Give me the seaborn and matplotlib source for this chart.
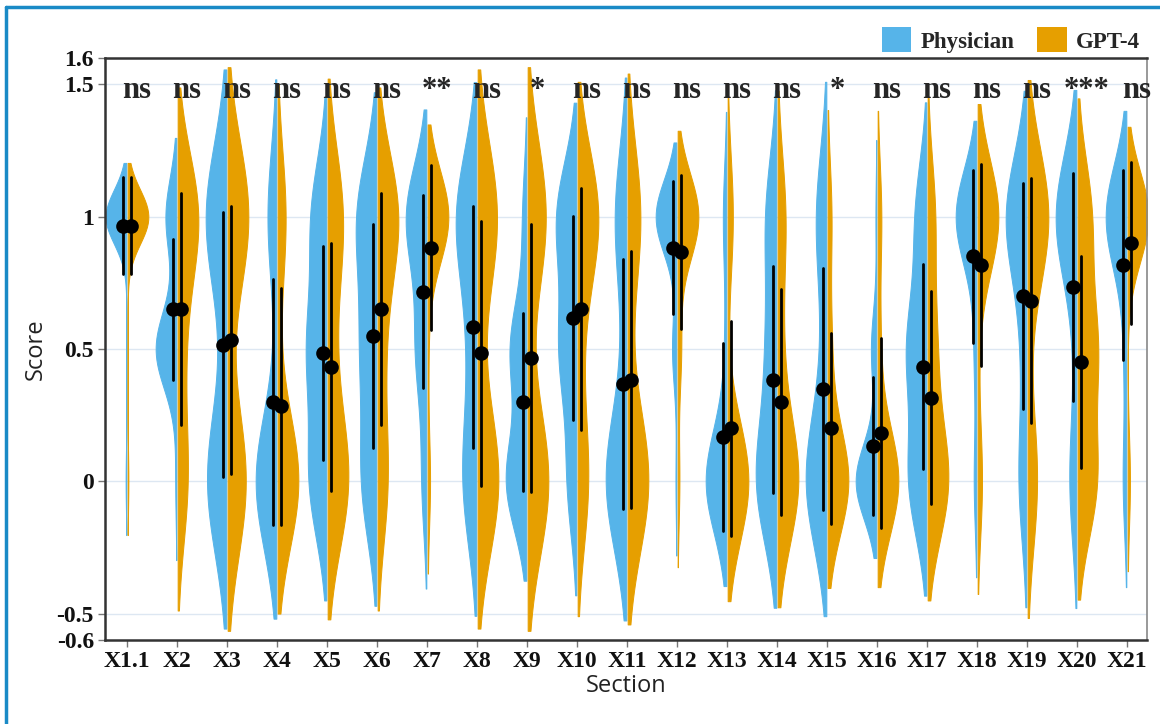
import numpy as np
import pandas as pd
import matplotlib
matplotlib.use("Agg")
import matplotlib.pyplot as plt
from matplotlib.lines import Line2D
import seaborn as sns

# ---------------- data (counts of scores 0 / 0.5 / 1 per section) ----------------
sections = ["X1.1", "X2", "X3", "X4", "X5", "X6", "X7", "X8", "X9", "X10", "X11",
            "X12", "X13", "X14", "X15", "X16", "X17", "X18", "X19", "X20", "X21"]
score_levels = [0.0, 0.5, 1.0]

phys_n0  = [1, 1, 14, 21, 10, 9, 4, 10, 15, 6, 18, 1, 24, 15, 18, 23, 11, 3, 7, 7, 4]
phys_n05 = [0, 19, 1, 0, 11, 9, 9, 5, 12, 11, 2, 5, 2, 7, 3, 6, 12, 3, 4, 2, 3]
phys_n1  = [29, 10, 15, 9, 9, 12, 17, 15, 3, 13, 10, 24, 4, 8, 9, 1, 7, 24, 19, 21, 23]

gpt_n0   = [1, 8, 14, 21, 15, 8, 3, 15, 16, 9, 18, 2, 24, 19, 22, 23, 17, 5, 9, 11, 3]
gpt_n05  = [0, 5, 0, 1, 4, 5, 1, 1, 0, 3, 1, 4, 0, 4, 4, 3, 7, 1, 1, 11, 0]
gpt_n1   = [29, 17, 16, 8, 11, 17, 26, 14, 14, 18, 11, 24, 6, 7, 4, 4, 6, 24, 20, 8, 27]

significance = ["ns", "ns", "ns", "ns", "ns", "ns", "**", "ns", "*", "ns", "ns",
                "ns", "ns", "ns", "*", "ns", "ns", "ns", "ns", "***", "ns"]

groups = ["Physician", "GPT-4"]
colors = {"Physician": "#56B4E9", "GPT-4": "#E69F00"}

y_ticks = [-0.6, -0.5, 0, 0.5, 1, 1.5, 1.6]
y_ticklabels = ["-0.6", "-0.5", "0", "0.5", "1", "1.5", "1.6"]

# ---------------- build long table ----------------
rows = []
for grp, c0, c05, c1 in [("Physician", phys_n0, phys_n05, phys_n1),
                         ("GPT-4", gpt_n0, gpt_n05, gpt_n1)]:
    for s, a, b, c in zip(sections, c0, c05, c1):
        for lvl, cnt in zip(score_levels, (a, b, c)):
            rows += [(s, grp, lvl)] * cnt
df = pd.DataFrame(rows, columns=["Section", "Group", "Score"])

# ---------------- plot ----------------
sns.set_theme(style="white")
plt.rcParams["font.family"] = ["DejaVu Sans"]

fig = plt.figure(figsize=(11.6, 7.24), dpi=100)
ax = fig.add_axes([105 / 1160, 1 - 640 / 724, (1147 - 105) / 1160, (640 - 58) / 724])

ax.set_axisbelow(True)
grid_c = "#dde7f2"
ax.grid(True, axis="both", color=grid_c, linewidth=1.0)

sns.violinplot(data=df, x="Section", y="Score", hue="Group", order=sections,
               hue_order=groups, palette=colors, split=True, inner=None,
               density_norm="width", common_norm=False, cut=2, bw_adjust=1.1,
               width=0.88, gap=0.06, linewidth=0, saturation=1, ax=ax, legend=False)

for coll in ax.collections:
    fc = coll.get_facecolor()
    coll.set_edgecolor(fc)
    coll.set_linewidth(0.7)

sns.pointplot(data=df, x="Section", y="Score", hue="Group", order=sections,
              hue_order=groups, palette=["black", "black"], errorbar="sd",
              dodge=0.17, linestyle="none", markers="o", markersize=8.5,
              err_kws={"linewidth": 2.0}, ax=ax, legend=False)

# significance labels
for i, lab in enumerate(significance):
    ax.text(i + 0.2, 1.45, lab, ha="center", va="baseline",
            fontsize=22, fontweight="bold", family=["Liberation Serif"])

ax.set_xlim(-0.44, 20.4)
ax.set_ylim(-0.6, 1.6)
ax.set_yticks(y_ticks)
ax.set_yticklabels(y_ticklabels)

for lab in ax.get_xticklabels() + ax.get_yticklabels():
    lab.set_family(["Liberation Serif"])
    lab.set_fontweight("bold")
    lab.set_fontsize(17)
    lab.set_color("#111111")

ax.tick_params(axis="both", which="both", length=5, width=1, color="#777777",
               direction="out", bottom=True, left=True, pad=3)

ax.set_xlabel("Section", fontsize=17, family=["Open Sans"], color="#222222", labelpad=1)
ax.set_ylabel("Score", fontsize=17, family=["Open Sans"], color="#222222", labelpad=6)

for side in ["left", "bottom", "top"]:
    ax.spines[side].set_color("#333333")
    ax.spines[side].set_linewidth(1.8)
ax.spines["right"].set_color("#888888")
ax.spines["right"].set_linewidth(1.2)

# legend
handles = [plt.Rectangle((0, 0), 1, 1, facecolor=colors[g], edgecolor="none") for g in groups]
fig.legend(handles, groups, loc="center right", bbox_to_anchor=(1161 / 1160, 1 - 40 / 724),
           ncol=2, frameon=False, handlelength=1.3, handleheight=1.3, handletextpad=0.4,
           columnspacing=1.0, prop={"family": "Liberation Serif", "weight": "bold", "size": 16.5})

# blue frame around the figure
fig.add_artist(Line2D([6 / 1160, 6 / 1160], [0, 1 - 7 / 724], transform=fig.transFigure,
                      color="#1a8ac6", linewidth=2.5))
fig.add_artist(Line2D([6 / 1160, 1], [1 - 7 / 724, 1 - 7 / 724], transform=fig.transFigure,
                      color="#1a8ac6", linewidth=2.5))

fig.savefig("out.png", dpi=100, facecolor="white")
